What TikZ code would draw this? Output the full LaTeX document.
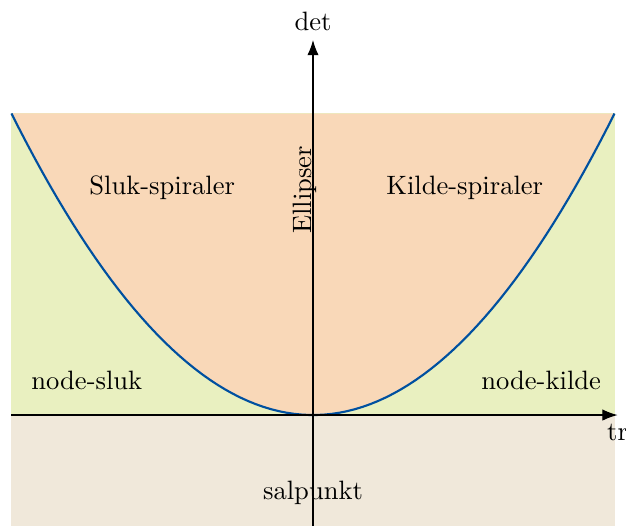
\documentclass[tikz,border=0pt]{standalone}
\usepackage{tikz}
\usetikzlibrary{arrows.meta}

\definecolor{spiralfill}{RGB}{249,216,184}
\definecolor{nodefill}{RGB}{233,240,192}
\definecolor{sadfill}{RGB}{240,232,218}
\definecolor{curveblue}{RGB}{0,80,160}

\begin{document}
\begin{tikzpicture}[
x=1.33cm, y=1.33cm,
every node/.style={align=center},
axis/.style={-{Latex[length=2mm]}, thin},
region/.style={font=\normalsize}
]
\useasboundingbox (-3.114,-1.104) rectangle (3.114,4.129);

% regions
\fill[nodefill] (-3,0) rectangle (3,3);
\fill[spiralfill] plot[domain=-3:3, samples=80] (\x,{\x*\x/3}) -- cycle;
\fill[sadfill] (-3,-1.104) rectangle (3,0);

% parabola
\draw[curveblue, thick] plot[domain=-3:3, samples=80] (\x,{\x*\x/3});

% axes
\coordinate (xmin) at (-3,0);
\coordinate (xmax) at (3.03,0);
\coordinate (ymin) at (0,-1.104);
\coordinate (ymax) at (0,3.73);
\draw[axis] (xmin) -- (xmax);
\draw[axis] (ymin) -- (ymax);
\node[below] (tr) at (3.03,0) {tr};
\node[above] (det) at (ymax) {det};

% labels
\node[region] (slukspiral) at (-1.5,2.26) {Sluk-spiraler};
\node[region] (kildespiral) at (1.51,2.26) {Kilde-spiraler};
\node[region, rotate=90] (ellipser) at (-0.08,2.24) {Ellipser};
\node[region] (nodesluk) at (-2.25,0.34) {node-sluk};
\node[region] (nodekilde) at (2.27,0.34) {node-kilde};
\node[region] (salpunkt) at (0,-0.77) {salpunkt};

\end{tikzpicture}
\end{document}
